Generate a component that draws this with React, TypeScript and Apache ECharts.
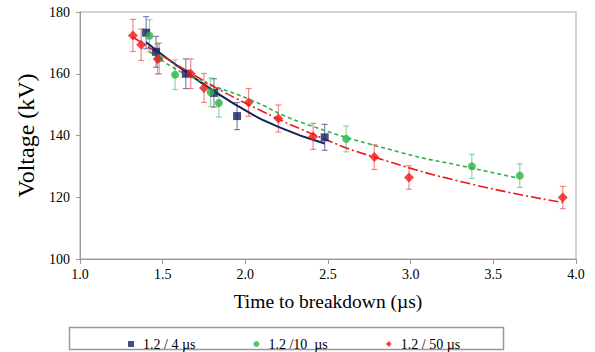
import React, { useEffect, useRef } from "react";
import * as echarts from "echarts";

// Measured points [time µs, voltage kV]
const wave4: number[][] = [
  [1.40, 173.3], [1.46, 167.1], [1.64, 160.0], [1.81, 153.8], [1.95, 146.3], [2.48, 139.4],
];
const wave10: number[][] = [
  [1.42, 172.3], [1.48, 165.0], [1.575, 159.7], [1.79, 154.0], [1.84, 150.5],
  [2.61, 138.9], [3.37, 130.0], [3.66, 127.0],
];
const wave50: number[][] = [
  [1.32, 172.4], [1.37, 169.4], [1.47, 164.8], [1.67, 160.0], [1.75, 155.4], [2.02, 150.7],
  [2.20, 145.5], [2.41, 139.7], [2.78, 133.0], [2.99, 126.4], [3.92, 119.9],
];
// Error bar half-widths (kV)
const err4 = [5.2, 5.0, 4.8, 4.6, 4.4, 4.2];
const err10 = [5.2, 5.0, 4.8, 4.6, 4.5, 4.2, 3.9, 3.8];
const err50 = [5.2, 5.1, 4.9, 4.8, 4.7, 4.5, 4.4, 4.2, 4.0, 3.8, 3.6];

// Trend lines
const trend4: number[][] = [
  [1.40, 170.2], [1.645, 160.4], [1.95, 149.7], [2.2, 142.8], [2.48, 137.4],
];
const trend10: number[][] = [
  [1.42, 167.2], [1.64, 159.8], [2.03, 151.6], [2.33, 144.4], [2.94, 134.5], [3.34, 129.8], [3.65, 126.2],
];
const trend50: number[][] = [
  [1.32, 171.9], [1.67, 160.2], [2.02, 150.0], [2.49, 138.6], [2.78, 133.0], [3.34, 124.6], [3.92, 118.3],
];

const names = ["1.2 / 4 µs", "1.2 /10  µs", "1.2 / 50 µs"];
const colors = ["#15205f", "#2cb34a", "#f01818"];
const errColors = ["rgba(60,70,130,0.65)", "rgba(60,180,90,0.55)", "rgba(235,60,60,0.6)"];

const xTicks = { min: 1, max: 4, interval: 0.5 };
const yTicks = { min: 100, max: 180, interval: 20 };

function errData(pts: number[][], errs: number[]) {
  return pts.map((p, i) => [p[0], p[1] - errs[i], p[1] + errs[i]]);
}

function errSeries(pts: number[][], errs: number[], color: string) {
  return {
    type: "custom",
    silent: true,
    z: 1,
    data: errData(pts, errs),
    renderItem: (params: any, api: any) => {
      const x = api.value(0);
      const lo = api.coord([x, api.value(1)]);
      const hi = api.coord([x, api.value(2)]);
      const cap = 3;
      const style = { stroke: color, lineWidth: 1.2 };
      return {
        type: "group",
        children: [
          { type: "line", shape: { x1: lo[0], y1: lo[1], x2: hi[0], y2: hi[1] }, style },
          { type: "line", shape: { x1: lo[0] - cap, y1: lo[1], x2: lo[0] + cap, y2: lo[1] }, style },
          { type: "line", shape: { x1: hi[0] - cap, y1: hi[1], x2: hi[0] + cap, y2: hi[1] }, style },
        ],
      };
    },
  };
}

export default function App() {
  const ref = useRef<HTMLDivElement>(null);
  useEffect(() => {
    document.body.style.margin = "0";
    const chart = echarts.init(ref.current!, null, { renderer: "svg" });
    const font = "Liberation Serif";
    chart.setOption({
      animation: false,
      backgroundColor: "#ffffff",
      textStyle: { fontFamily: font },
      grid: {
        left: 80, right: 19, top: 12, bottom: 93,
        show: true, borderColor: "#c4c4c4", borderWidth: 1.5,
      },
      xAxis: {
        type: "value",
        ...xTicks,
        name: "Time to breakdown (µs)",
        nameLocation: "middle",
        nameGap: 32,
        nameTextStyle: { fontFamily: font, fontSize: 19.5, color: "#000" },
        axisLine: { show: true, lineStyle: { color: "#999", width: 1 } },
        axisTick: { show: true, length: 5, lineStyle: { color: "#999" } },
        axisLabel: {
          fontFamily: font, fontSize: 14, color: "#000", margin: 8,
          formatter: (v: number) => v.toFixed(1),
        },
        splitLine: { show: false },
      },
      yAxis: {
        type: "value",
        ...yTicks,
        name: "Voltage (kV)",
        nameLocation: "middle",
        nameGap: 40,
        nameTextStyle: { fontFamily: font, fontSize: 24, color: "#000" },
        axisLine: { show: true, lineStyle: { color: "#999", width: 1 } },
        axisTick: { show: true, length: 4, lineStyle: { color: "#999" } },
        axisLabel: { fontFamily: font, fontSize: 14, color: "#000", margin: 10 },
        splitLine: { show: false },
      },
      legend: {
        left: 123,
        top: 332,
        itemWidth: 6,
        itemHeight: 6,
        itemGap: 58,
        textStyle: { fontFamily: font, fontSize: 14, color: "#000", padding: [0, 0, 0, 4] },
        data: [
          { name: names[0], icon: "rect" },
          { name: names[1], icon: "circle" },
          { name: names[2], icon: "diamond" },
        ],
      },
      graphic: [
        {
          type: "rect",
          shape: { x: 69.5, y: 327.5, width: 434, height: 22 },
          style: { fill: "none", stroke: "#999", lineWidth: 1.5 },
          silent: true,
        },
      ],
      series: [
        errSeries(wave4, err4, errColors[0]),
        errSeries(wave10, err10, errColors[1]),
        errSeries(wave50, err50, errColors[2]),
        {
          type: "line", data: trend4, smooth: true, showSymbol: false, symbol: "none", z: 2,
          lineStyle: { color: colors[0], width: 2, type: "solid" }, silent: true,
        },
        {
          type: "line", data: trend10, smooth: true, showSymbol: false, symbol: "none", z: 2,
          lineStyle: { color: colors[1], width: 1.6, type: [4, 3] }, silent: true,
        },
        {
          type: "line", data: trend50, smooth: true, showSymbol: false, symbol: "none", z: 2,
          lineStyle: { color: colors[2], width: 1.6, type: [10, 3, 2, 3] }, silent: true,
        },
        {
          name: names[0], type: "scatter", data: wave4, symbol: "rect", symbolSize: 8, z: 3,
          itemStyle: { color: colors[0] },
        },
        {
          name: names[1], type: "scatter", data: wave10, symbol: "circle", symbolSize: 8, z: 3,
          itemStyle: { color: colors[1] },
        },
        {
          name: names[2], type: "scatter", data: wave50, symbol: "diamond", symbolSize: 10, z: 3,
          itemStyle: { color: colors[2] },
        },
      ],
    });
    return () => chart.dispose();
  }, []);
  return <div ref={ref} style={{ width: 595, height: 352 }} />;
}
